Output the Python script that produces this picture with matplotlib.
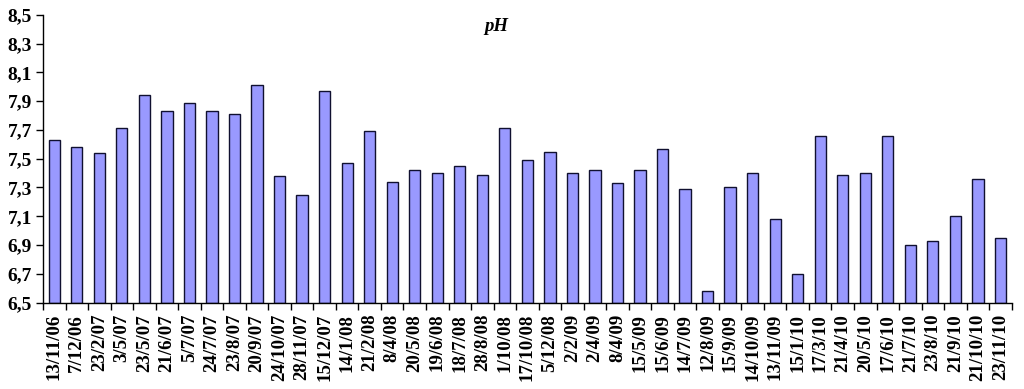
import numpy as np
import matplotlib
matplotlib.use('Agg')
import matplotlib.pyplot as plt
from matplotlib.ticker import FixedLocator, FuncFormatter

# sampling dates and measured pH
dates = ['13/11/06', '7/12/06', '23/2/07', '3/5/07', '23/5/07', '21/6/07', '5/7/07',
         '24/7/07', '23/8/07', '20/9/07', '24/10/07', '28/11/07', '15/12/07', '14/1/08',
         '21/2/08', '8/4/08', '20/5/08', '19/6/08', '18/7/08', '28/8/08', '1/10/08',
         '17/10/08', '5/12/08', '2/2/09', '2/4/09', '8/4/09', '15/5/09', '15/6/09',
         '14/7/09', '12/8/09', '15/9/09', '14/10/09', '13/11/09', '15/1/10', '17/3/10',
         '21/4/10', '20/5/10', '17/6/10', '21/7/10', '23/8/10', '21/9/10', '21/10/10',
         '23/11/10']
ph = [7.63, 7.58, 7.54, 7.71, 7.94, 7.83, 7.89, 7.83, 7.81, 8.01, 7.38, 7.25, 7.97,
      7.47, 7.69, 7.34, 7.42, 7.40, 7.45, 7.39, 7.71, 7.49, 7.55, 7.40, 7.42, 7.33,
      7.42, 7.57, 7.29, 6.58, 7.30, 7.40, 7.08, 6.70, 7.66, 7.39, 7.40, 7.66, 6.90,
      6.93, 7.10, 7.36, 6.95]
yticks = [6.5, 6.7, 6.9, 7.1, 7.3, 7.5, 7.7, 7.9, 8.1, 8.3, 8.5]

plt.rcParams['font.family'] = ['Liberation Serif', 'DejaVu Serif']
plt.rcParams['font.weight'] = 'bold'

fig = plt.figure(figsize=(10.24, 3.89), dpi=100)
ax = fig.add_axes([0.042, 0.222, 0.946, 0.74])

x = np.arange(len(dates))
base = 6.5
ax.bar(x, np.array(ph) - base, bottom=base, width=0.5,
       color='#9999FF', edgecolor='#101030', linewidth=1.0)

ax.set_xlim(-0.5, len(dates) - 0.5)
ax.set_ylim(6.5, 8.5)

ax.set_yticks(yticks)
ax.yaxis.set_major_formatter(FuncFormatter(lambda v, p: f'{v:.1f}'.replace('.', ',')))
ax.tick_params(axis='y', direction='out', length=5, width=1, labelsize=14, pad=3)

ax.set_xticks(x)
ax.set_xticklabels(dates, rotation=90, fontsize=13.6, fontweight='bold')
ax.tick_params(axis='x', which='major', length=0, pad=8)
ax.xaxis.set_minor_locator(FixedLocator(np.arange(-0.5, len(dates), 1.0)))
ax.tick_params(axis='x', which='minor', direction='out', length=5, width=1)

for s in ['top', 'right']:
    ax.spines[s].set_visible(False)
for s in ['left', 'bottom']:
    ax.spines[s].set_linewidth(1.0)

ax.text(0.468, 0.99, 'pH', transform=ax.transAxes, ha='center', va='top',
        fontsize=13.5, fontstyle='italic', fontweight='bold')

fig.savefig('out.png', dpi=100)
